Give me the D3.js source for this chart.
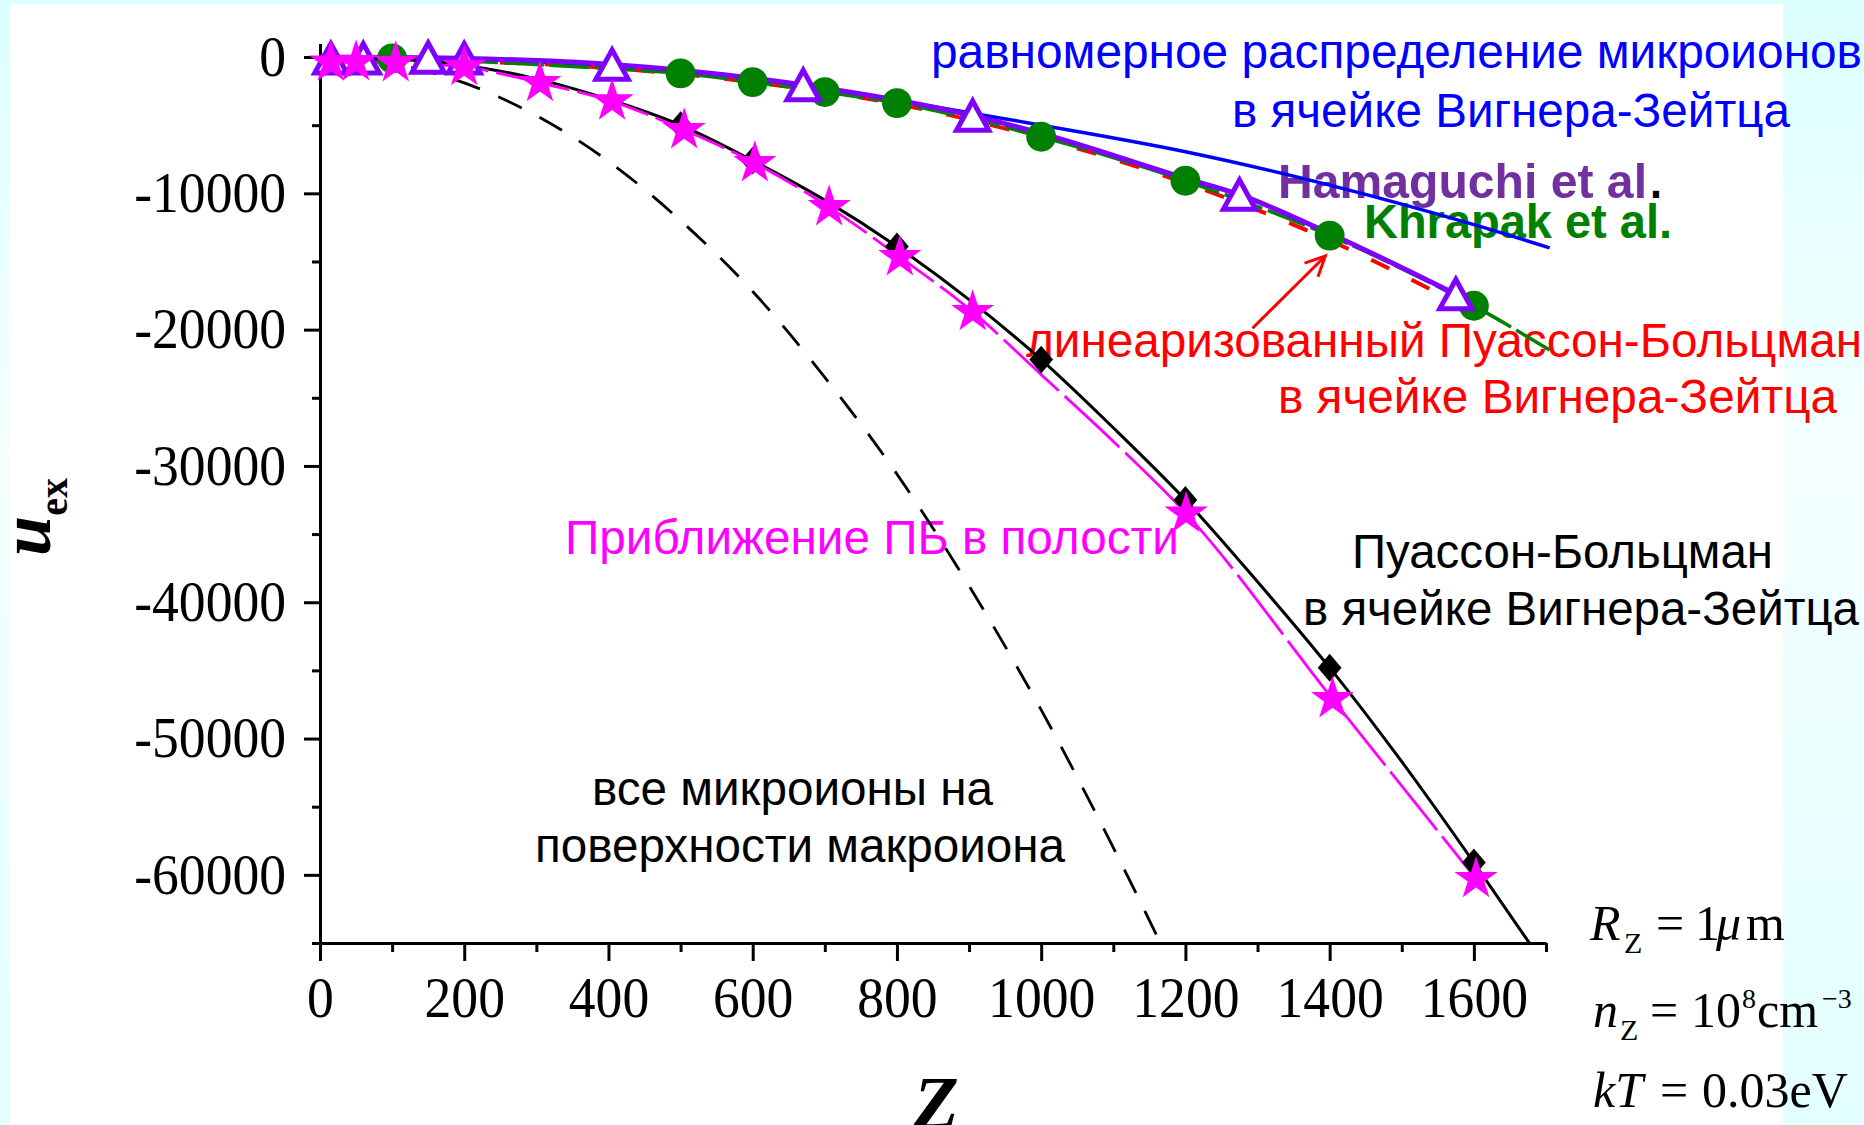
<!DOCTYPE html>
<html>
<head>
<meta charset="utf-8">
<style>
    body { margin: 0; background: #fff; }
    svg { display: block; }
    .axis path, .axis line { stroke: #000; stroke-width: 3px; }
    .axis text { font: 57px "Liberation Serif", "Times New Roman", serif; fill: #000; }
    .note { font-family: "Liberation Sans", Arial, sans-serif; font-size: 48px; }
    .serif { font-family: "Liberation Serif", "Times New Roman", serif; }
</style>
</head>
<body>
<svg width="1864" height="1125"></svg>
<script src="https://cdn.jsdelivr.net/npm/d3@7"></script>
<script>
    // ---- data ----
    var xTicks = [0, 200, 400, 600, 800, 1000, 1200, 1400, 1600];
    var xMinor = [100, 300, 500, 700, 900, 1100, 1300, 1500, 1700];
    var yTicks = [0, -10000, -20000, -30000, -40000, -50000, -60000];
    var yMinor = [-5000, -15000, -25000, -35000, -45000, -55000, -65000];

    // all microions on the macroion surface (black dashed)
    var surfZ = [0, 100, 200, 300, 400, 500, 600, 700, 800, 900, 1000, 1100, 1170];
    var surfU = [0, -480, -1900, -4300, -7650, -12000, -17200, -23500, -30600, -38800, -47900, -58000, -65500];

    // uniform distribution in WS cell (blue)
    var unifZ = [0, 200, 400, 600, 800, 1000, 1200, 1400, 1600, 1705];
    var unifU = [0, -150, -700, -1700, -3200, -5000, -6950, -9400, -12300, -14000];

    // linearized PB in WS cell (red dashed)
    var linZ = [0, 200, 400, 600, 800, 1000, 1200, 1400, 1600];
    var linU = [0, -300, -800, -1850, -3450, -5950, -9250, -13450, -18700];

    // Khrapak et al. (green)
    var khrZ = [0, 100, 200, 300, 400, 500, 600, 700, 800, 900, 1000, 1200, 1400, 1600, 1705];
    var khrU = [0, -100, -300, -550, -850, -1200, -1840, -2570, -3380, -4500, -5850, -9080, -13100, -18250, -21500];
    var khrPtZ = [100, 500, 600, 700, 800, 1000, 1200, 1400, 1600];
    var khrPtU = [-100, -1200, -1840, -2570, -3380, -5850, -9080, -13100, -18250];

    // Hamaguchi et al. (purple triangles and their line)
    var hamZ = [15, 60, 150, 200, 405, 670, 905, 1275, 1575];
    var hamU = [-100, -100, -50, -100, -550, -2050, -4300, -10100, -17400];
    var hamLineZ = [0, 150, 200, 405, 670, 905, 1000, 1200, 1275, 1400, 1575];
    var hamLineU = [0, -50, -100, -550, -2050, -4300, -5600, -8900, -10100, -12950, -17400];

    // PB in WS cell (black)
    var pbZ = [0, 100, 200, 300, 400, 500, 600, 700, 800, 900, 1000, 1100, 1200, 1300, 1400, 1500, 1600, 1690];
    var pbU = [0, -150, -600, -1600, -3100, -5000, -7600, -10500, -13900, -17800, -22200, -27200, -32500, -38500, -44800, -51700, -59100, -66000];
    var pbPtZ = [500, 600, 800, 1000, 1200, 1400, 1600];
    var pbPtU = [-5000, -7600, -13900, -22200, -32500, -44800, -59100];

    // PB approximation in cavity (magenta stars)
    var cavPtZ = [15, 50, 105, 200, 305, 405, 505, 603, 706, 804, 905, 1201, 1404, 1603];
    var cavPtU = [-400, -370, -440, -730, -1900, -3250, -5360, -7780, -11010, -14680, -18700, -33500, -47100, -60300];
    var cavZ = [15, 50, 105, 200, 305, 405, 505, 603, 706, 804, 905, 1000, 1100, 1201, 1404, 1603];
    var cavU = [-400, -370, -440, -730, -1900, -3250, -5360, -7780, -11010, -14680, -18700, -23300, -28200, -33500, -47100, -60300];

    // arrow to the linearized PB curve
    var arrowZ = [1293, 1394];
    var arrowU = [-19900, -14600];

    // ---- drawing ----
    var svg = d3.select("svg"),
        width = +svg.attr("width"),
        height = +svg.attr("height");

    var x = d3.scaleLinear().domain([0, 1700]).range([320, 1546]);
    var y = d3.scaleLinear().domain([-65000, 1000]).range([943, 43.4]);

    var defs = svg.append("defs");
    var grad = defs.append("linearGradient").attr("id", "bg")
        .attr("x1", 0).attr("y1", 0).attr("x2", 0).attr("y2", 1);
    grad.append("stop").attr("offset", "0%").attr("stop-color", "#dcffff");
    grad.append("stop").attr("offset", "40%").attr("stop-color", "#f4ffff");
    grad.append("stop").attr("offset", "100%").attr("stop-color", "#e2ffff");
    defs.append("clipPath").attr("id", "plot")
        .append("rect").attr("x", 0).attr("y", 0).attr("width", width).attr("height", y(-65000));

    svg.append("rect").attr("width", width).attr("height", height).attr("fill", "url(#bg)");
    svg.append("rect").attr("x", 10).attr("y", 4).attr("width", 1773).attr("height", height - 4).attr("fill", "#fff");

    // text labels (drawn under the curves, as in the original)
    function note(str, x0, y0, w, color, bold) {
        return svg.append("text").attr("class", "note")
            .attr("x", x0).attr("y", y0)
            .attr("fill", color)
            .attr("font-weight", bold ? "bold" : null)
            .attr("textLength", w).attr("lengthAdjust", "spacingAndGlyphs")
            .text(str);
    }
    note("равномерное распределение микроионов", 931, 68, 931, "#0000ff");
    note("в ячейке Вигнера-Зейтца", 1232, 127, 558, "#0000ff");
    note("Hamaguchi et al", 1278, 198, 369, "#7030a0", true);
    note(".", 1650, 198, 12, "#000", true);
    note("Khrapak et al.", 1364, 238, 308, "#008000", true);
    note("линеаризованный Пуассон-Больцман", 1026, 357, 836, "#ff0000");
    note("в ячейке Вигнера-Зейтца", 1278, 413, 559, "#ff0000");
    note("Приближение ПБ в полости", 565, 554, 614, "#ff00ff");
    note("Пуассон-Больцман", 1352, 568, 421, "#000");
    note("в ячейке Вигнера-Зейтца", 1303, 625, 556, "#000");
    note("все микроионы на", 592, 805, 401, "#000");
    note("поверхности макроиона", 535, 862, 530, "#000");

    // axes
    var gx = svg.append("g").attr("class", "axis").attr("transform", "translate(0," + y(-65000) + ")");
    gx.call(d3.axisBottom(x).tickValues(xTicks).tickSize(18).tickSizeOuter(0).tickPadding(16)
        .tickFormat(function(d) { return String(d); }));
    gx.append("g").call(d3.axisBottom(x).tickValues(xMinor).tickSize(9).tickFormat(""))
        .select(".domain").remove();

    var gy = svg.append("g").attr("class", "axis").attr("transform", "translate(" + x(0) + ",0)");
    gy.call(d3.axisLeft(y).tickValues(yTicks).tickSize(16).tickSizeOuter(0).tickPadding(18)
        .tickFormat(function(d) { return String(d); }));
    gy.append("g").call(d3.axisLeft(y).tickValues(yMinor).tickSize(8).tickFormat(""))
        .select(".domain").remove();
    svg.selectAll(".axis text")
        .attr("font-family", null).attr("font-size", null)
        .each(function() {
            var len = this.getComputedTextLength();
            if (len > 0) d3.select(this).attr("textLength", len * 0.94).attr("lengthAdjust", "spacingAndGlyphs");
        });

    // axis titles
    var yl = svg.append("text").attr("class", "serif")
        .attr("transform", "translate(50,517) rotate(-90)")
        .attr("text-anchor", "middle")
        .attr("font-weight", "bold");
    yl.append("tspan").attr("font-style", "italic").attr("font-size", 72).text("u");
    yl.append("tspan").attr("font-size", 40).attr("dy", 17).text("ex");

    svg.append("text").attr("class", "serif")
        .attr("x", 936).attr("y", 1128)
        .attr("text-anchor", "middle")
        .attr("font-weight", "bold").attr("font-style", "italic")
        .attr("font-size", 74)
        .text("Z");

    // parameters block
    function piece(str, x0, y0, size, italic) {
        svg.append("text").attr("class", "serif")
            .attr("x", x0).attr("y", y0)
            .attr("font-size", size)
            .attr("font-style", italic ? "italic" : null)
            .text(str);
    }
    piece("R", 1590, 940, 50, true);
    piece("Z", 1624, 953, 30);
    piece("=", 1656, 940, 50);
    piece("1", 1695, 940, 50);
    piece("μ", 1716, 940, 50, true);
    piece("m", 1746, 940, 50);

    piece("n", 1593, 1027, 50, true);
    piece("Z", 1620, 1040, 30);
    piece("=", 1650, 1027, 50);
    piece("10", 1691, 1027, 50);
    piece("8", 1742, 1008, 28);
    piece("cm", 1757, 1027, 50);
    piece("\u22123", 1822, 1008, 28);

    piece("kT", 1593, 1107, 50, true);
    piece("=", 1660, 1107, 50);
    piece("0.03eV", 1702, 1107, 50);

    // curves
    var line = d3.line()
        .x(function(d) { return x(d[0]); })
        .y(function(d) { return y(d[1]); })
        .curve(d3.curveMonotoneX);

    var curves = svg.append("g").attr("clip-path", "url(#plot)").attr("fill", "none");

    function curve(zs, us, color, w, dash) {
        curves.append("path")
            .datum(d3.zip(zs, us))
            .attr("d", line)
            .attr("stroke", color)
            .attr("stroke-width", w)
            .attr("stroke-dasharray", dash || null);
    }
    curve(surfZ, surfU, "#000", 2.8, "26,20");
    curve(unifZ, unifU, "#0000ff", 3.5);
    curve(linZ, linU, "#ff0000", 4, "20,25");
    curve(khrZ, khrU, "#008000", 3.5, "40,6");
    curve(hamLineZ, hamLineU, "#8000ff", 5);
    curve(pbZ, pbU, "#000", 3);
    curve(cavZ, cavU, "#ff00ff", 2.8, "75,8");

    // arrow
    var ax0 = x(arrowZ[0]), ay0 = y(arrowU[0]), ax1 = x(arrowZ[1]), ay1 = y(arrowU[1]);
    var ang = Math.atan2(ay1 - ay0, ax1 - ax0);
    var arrow = svg.append("g").attr("stroke", "#ff0000").attr("stroke-width", 3).attr("fill", "none");
    arrow.append("line").attr("x1", ax0).attr("y1", ay0).attr("x2", ax1).attr("y2", ay1);
    arrow.append("path").attr("d", d3.line()([
        [ax1 - 22 * Math.cos(ang - 0.45), ay1 - 22 * Math.sin(ang - 0.45)],
        [ax1, ay1],
        [ax1 - 22 * Math.cos(ang + 0.45), ay1 - 22 * Math.sin(ang + 0.45)]
    ]));

    // markers
    var triangle = {
        draw: function(ctx, size) {
            var s = Math.sqrt(size);
            ctx.moveTo(0, -s / 2);
            ctx.lineTo(s * 0.55, s / 2);
            ctx.lineTo(-s * 0.55, s / 2);
            ctx.closePath();
        }
    };
    var diamond = {
        draw: function(ctx, size) {
            var s = Math.sqrt(size) / 2;
            ctx.moveTo(0, -s);
            ctx.lineTo(s * 0.85, 0);
            ctx.lineTo(0, s);
            ctx.lineTo(-s * 0.85, 0);
            ctx.closePath();
        }
    };

    function markers(zs, us, type, size, fill, stroke, sw) {
        svg.append("g").selectAll("path")
            .data(d3.zip(zs, us))
            .enter().append("path")
            .attr("transform", function(d) { return "translate(" + x(d[0]) + "," + y(d[1]) + ")"; })
            .attr("d", d3.symbol().type(type).size(size))
            .attr("fill", fill)
            .attr("stroke", stroke || "none")
            .attr("stroke-width", sw || 0);
    }
    markers(khrPtZ, khrPtU, d3.symbolCircle, 700, "#008000");
    markers(hamZ, hamU, triangle, 860, "#fff", "#8000ff", 5);
    markers(pbPtZ, pbPtU, diamond, 780, "#000");
    markers(cavPtZ, cavPtU, d3.symbolStar, 580, "#ff00ff");
</script>
</body>
</html>
